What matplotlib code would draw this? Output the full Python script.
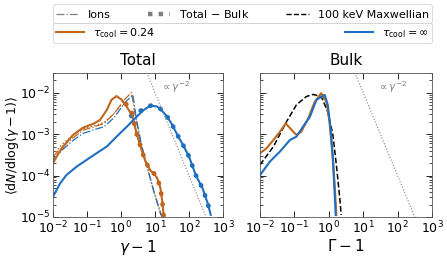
import numpy as np
import matplotlib
matplotlib.use("Agg")
import matplotlib.pyplot as plt
from matplotlib.lines import Line2D

plt.rcParams['font.family'] = ['DejaVu Sans']
plt.rcParams['mathtext.fontset'] = 'dejavusans'

ORANGE = '#c0661c'
BLUE = '#1f6fc1'

# ---------------- data (log10 values) ----------------
# Total panel, tau_cool = 0.24 (total)
tot_o_lx = [-2.0, -1.85, -1.7, -1.55, -1.41, -1.25, -1.11, -0.95, -0.82, -0.62, -0.42, -0.28, -0.13, 0.02, 0.17, 0.33, 0.47, 0.62, 0.72, 0.87, 0.97, 1.07, 1.16, 1.21, 1.26]
tot_o_ly = [-3.70, -3.48, -3.30, -3.15, -3.02, -2.92, -2.84, -2.79, -2.75, -2.66, -2.42, -2.17, -2.08, -2.17, -2.34, -2.55, -3.02, -3.42, -3.66, -3.88, -3.95, -4.07, -4.30, -4.60, -5.0]
# Total panel, tau_cool = inf (total)
tot_b_lx = [-2.0, -1.8, -1.61, -1.3, -1.01, -0.72, -0.42, -0.13, 0.17, 0.46, 0.66, 0.87, 1.05, 1.16, 1.36, 1.51, 1.66, 1.85, 2.0, 2.2, 2.4, 2.55, 2.64]
tot_b_ly = [-4.51, -4.20, -3.99, -3.78, -3.62, -3.46, -3.30, -3.06, -2.82, -2.58, -2.42, -2.31, -2.33, -2.39, -2.58, -2.78, -3.02, -3.30, -3.54, -3.99, -4.31, -4.67, -4.95]
# Ions, tau_cool = 0.24
ion_o_lx = [-2.0, -1.7, -1.41, -1.11, -0.82, -0.5, -0.2, 0.1, 0.31, 0.42, 0.57, 0.77, 0.96, 1.16, 1.22]
ion_o_ly = [-3.54, -3.28, -3.09, -2.90, -2.83, -2.74, -2.50, -2.17, -1.99, -2.55, -3.18, -3.80, -4.37, -4.88, -5.0]
# Ions, tau_cool = inf
ion_b_lx = [-2.0, -1.7, -1.41, -1.11, -0.82, -0.5, -0.2, 0.1, 0.35, 0.45, 0.6, 0.8, 0.98, 1.16, 1.21]
ion_b_ly = [-3.62, -3.36, -3.15, -2.98, -2.90, -2.82, -2.60, -2.25, -2.05, -2.62, -3.25, -3.88, -4.42, -4.92, -5.0]
# Total - Bulk, tau_cool = 0.24 (low-energy part and tail part)
tmb_o_low_lx = [-2.0, -1.7, -1.4, -1.1, -0.8, -0.5, -0.2, 0.0, 0.15]
tmb_o_low_ly = [-3.50, -3.22, -3.02, -2.87, -2.80, -2.72, -2.50, -2.30, -2.27]
tmb_o_lx = [0.15, 0.3, 0.47, 0.62, 0.72, 0.87, 0.97, 1.07, 1.16, 1.21, 1.26]
tmb_o_ly = [-2.27, -2.42, -3.02, -3.42, -3.66, -3.88, -3.95, -4.07, -4.30, -4.60, -5.0]
# Total - Bulk, tau_cool = inf
tmb_b_lx = [0.3, 0.46, 0.66, 0.87, 1.05, 1.16, 1.36, 1.51, 1.66, 1.85, 2.0, 2.2, 2.4, 2.55, 2.64]
tmb_b_ly = [-2.56, -2.48, -2.40, -2.31, -2.33, -2.39, -2.58, -2.78, -3.02, -3.30, -3.54, -3.99, -4.31, -4.67, -4.95]

# Bulk panel
blk_o_lx = [-2.0, -1.81, -1.57, -1.42, -1.25, -1.08, -0.94, -0.80, -0.60, -0.41, -0.22, -0.07, 0.02, 0.10, 0.17, 0.22]
blk_o_ly = [-3.46, -3.34, -3.10, -2.94, -2.74, -2.90, -3.02, -2.94, -2.62, -2.22, -2.01, -2.22, -2.70, -3.42, -4.23, -4.95]
blk_b_lx = [-2.0, -1.71, -1.42, -1.13, -0.94, -0.75, -0.55, -0.36, -0.12, -0.03, 0.05, 0.12, 0.20]
blk_b_ly = [-3.99, -3.66, -3.42, -3.14, -3.06, -2.82, -2.58, -2.17, -2.05, -2.29, -2.86, -3.58, -4.95]
maxw_lx = [-2.0, -1.61, -1.23, -0.94, -0.65, -0.46, -0.22, -0.03, 0.12, 0.23, 0.31, 0.36]
maxw_ly = [-3.74, -3.30, -2.70, -2.29, -2.09, -2.04, -2.09, -2.46, -3.02, -3.82, -4.47, -4.95]

# gamma^-2 guide line
guide_x = [1.0, 1000.0]
guide_y = [1.0, 1e-6]

xticks = [1e-2, 1e-1, 1e0, 1e1, 1e2, 1e3]
yticks = [1e-5, 1e-4, 1e-3, 1e-2]


def p(lx, ly):
    return 10 ** np.asarray(lx), 10 ** np.asarray(ly)


fig = plt.figure(figsize=(4.47, 2.56), dpi=100)
W, H = 447.0, 256.0
ax1 = fig.add_axes([53 / W, (H - 217) / H, 170 / W, 144 / H])
ax2 = fig.add_axes([260 / W, (H - 217) / H, 172 / W, 144 / H])

dot_kw = dict(linestyle=(0, (0.1, 2.2)), lw=3.4, dash_capstyle='round')

# Left panel
ax1.plot(*p(ion_o_lx, ion_o_ly), color=ORANGE, lw=0.9, linestyle='-.')
ax1.plot(*p(ion_b_lx, ion_b_ly), color=BLUE, lw=0.9, linestyle='-.')
ax1.plot(*p(tmb_o_low_lx, tmb_o_low_ly), color=ORANGE, lw=1.0, linestyle=':')
ax1.plot(*p(tmb_o_lx, tmb_o_ly), color=ORANGE, **dot_kw)
ax1.plot(*p(tmb_b_lx, tmb_b_ly), color=BLUE, **dot_kw)
ax1.plot(*p(tot_o_lx, tot_o_ly), color=ORANGE, lw=1.5)
ax1.plot(*p(tot_b_lx, tot_b_ly), color=BLUE, lw=1.5)
ax1.plot(guide_x, guide_y, color='gray', lw=0.8, linestyle=':')
ax1.text(14, 1.4e-2, r'$\propto\gamma^{-2}$', color='gray', fontsize=7.5, va='center')

# Right panel
ax2.plot(*p(maxw_lx, maxw_ly), color='black', lw=1.1, linestyle='--')
ax2.plot(*p(blk_o_lx, blk_o_ly), color=ORANGE, lw=1.5)
ax2.plot(*p(blk_b_lx, blk_b_ly), color=BLUE, lw=1.5)
ax2.plot(guide_x, guide_y, color='gray', lw=0.8, linestyle=':')
ax2.text(25, 1.4e-2, r'$\propto\gamma^{-2}$', color='gray', fontsize=7.5, va='center')

for ax in (ax1, ax2):
    ax.set_xscale('log')
    ax.set_yscale('log')
    ax.set_xlim(1e-2, 1e3)
    ax.set_ylim(1e-5, 3e-2)
    ax.set_xticks(xticks)
    ax.set_yticks(yticks)
    ax.tick_params(which='both', direction='in', top=True, right=True, labelsize=9, pad=2)
    ax.tick_params(which='major', length=4, width=0.6)
    ax.tick_params(which='minor', length=2, width=0.5)
    ax.xaxis.set_minor_locator(matplotlib.ticker.NullLocator())
    for s in ax.spines.values():
        s.set_linewidth(0.6)
        s.set_color('#555555')

ax2.set_yticklabels([])
ax1.set_title('Total', fontsize=11, pad=6)
ax2.set_title('Bulk', fontsize=11, pad=6)
ax1.set_xlabel(r'$\gamma-1$', fontsize=11, labelpad=1)
ax2.set_xlabel(r'$\Gamma-1$', fontsize=11, labelpad=1)
ax1.set_ylabel(r'$\langle \mathrm{d}N/\mathrm{dlog}(\gamma-1)\rangle$', fontsize=9, labelpad=1)
ax1.yaxis.set_label_coords(-0.19, 0.5)

# Legends
h1 = [Line2D([], [], color='gray', lw=0.9, linestyle='-.'),
      Line2D([], [], color='gray', lw=3.2, linestyle=(0, (1, 1.4)), dash_capstyle='butt'),
      Line2D([], [], color='black', lw=1.0, linestyle='--')]
l1 = fig.legend(h1, ['Ions', r'Total $-$ Bulk', '100 keV Maxwellian'], ncol=3, mode='expand',
                loc='lower left', bbox_to_anchor=(53 / W, 1 - 23 / H, 379 / W, 18 / H),
                fontsize=8, frameon=True, borderaxespad=0, handlelength=2.0,
                borderpad=0.3, handletextpad=0.8, fancybox=True)
l1.get_frame().set_linewidth(0.6)
h2 = [Line2D([], [], color=ORANGE, lw=1.5), Line2D([], [], color=BLUE, lw=1.5)]
l2 = fig.legend(h2, [r'$\tau_{\rm cool}=0.24$', r'$\tau_{\rm cool}=\infty$'], ncol=2, mode='expand',
                loc='lower left', bbox_to_anchor=(53 / W, 1 - 43 / H, 379 / W, 18 / H),
                fontsize=8, frameon=True, borderaxespad=0, handlelength=2.5,
                borderpad=0.3, handletextpad=0.8, fancybox=True)
l2.get_frame().set_linewidth(0.6)

fig.savefig('out.png', dpi=100)
